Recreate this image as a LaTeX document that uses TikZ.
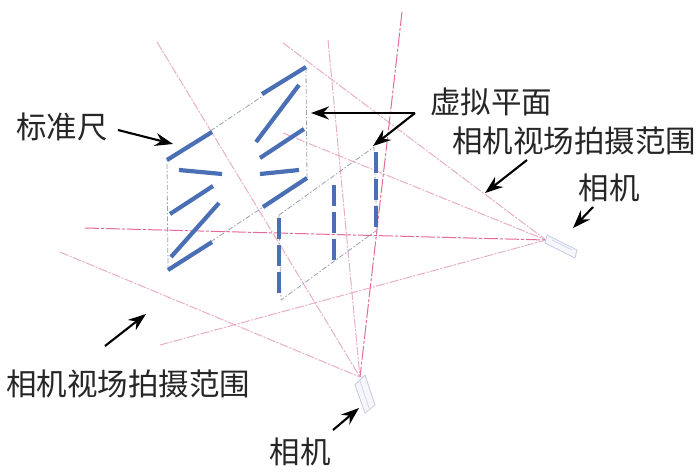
\documentclass[tikz,border=0pt]{standalone}
\usepackage{fontspec}
\newfontfamily\cjk{Noto Sans CJK SC}[Scale=1]
\usetikzlibrary{arrows.meta}
\definecolor{rayPink}{HTML}{E9AFC8}
\definecolor{rayCore}{HTML}{E86A9C}
\definecolor{barBlue}{HTML}{4A6FB5}
\definecolor{planeGrey}{HTML}{98A2B4}
\definecolor{camEdge}{HTML}{C6CBE0}
\definecolor{camFill}{HTML}{F6F7FC}
\begin{document}
\begin{tikzpicture}[x=1pt,y=-1pt,>={Stealth[length=18pt,width=13pt,inset=6pt]},line cap=butt,line join=round]
\tikzset{ray/.style={draw=rayPink,line width=1pt,dash pattern=on 9pt off 1.5pt on 2pt off 1.5pt},coreray/.style={draw=rayCore,line width=1pt,dash pattern=on 14pt off 2pt on 3pt off 2pt},planeline/.style={draw=planeGrey,line width=0.8pt,dash pattern=on 5pt off 2pt on 1.5pt off 2pt},bar/.style={draw=barBlue,line width=4.2pt},callout/.style={draw=black,line width=2.1pt,->},label/.style={font=\cjk\fontsize{30.5}{30.5}\selectfont,text=black!85,inner sep=0pt},cam/.style={draw=camEdge,fill=camFill,line width=0.8pt},camline/.style={draw=camEdge,line width=0.6pt}}
\path[use as bounding box,fill=white] (0,0) rectangle (700,471);
% view points
\coordinate (camR) at (546,240);
\coordinate (camB) at (360,377);
% rays of the right camera
\coordinate (rayRa) at (283,43);
\coordinate (rayRb) at (283,133);
\coordinate (rayRc) at (85,228);
\coordinate (rayRd) at (160,345);
\draw[ray] (rayRa) -- (camR);
\draw[ray] (rayRb) -- (camR);
\draw[coreray] (rayRc) -- (camR);
\draw[ray] (rayRd) -- (camR);
% rays of the bottom camera
\coordinate (rayBa) at (157,42);
\coordinate (rayBb) at (328,40);
\coordinate (rayBc) at (402,12);
\coordinate (rayBd) at (60,252);
\draw[ray] (rayBa) -- (camB);
\draw[ray] (rayBb) -- (camB);
\draw[coreray] (rayBc) -- (camB);
\draw[ray] (rayBd) -- (camB);
% planes
\coordinate (planeA) at (167,160);
\coordinate (planeB) at (306,67);
\coordinate (planeC) at (307,178);
\coordinate (planeD) at (168,270);
\coordinate (planeE) at (279,215);
\coordinate (planeF) at (374,147);
\coordinate (planeG) at (377,230);
\coordinate (planeH) at (281,300);
\draw[planeline] (planeA) -- (planeB) -- (planeC) -- (planeD) -- cycle;
\draw[planeline] (planeE) -- (planeF) -- (planeG) -- (planeH) -- cycle;
% scale bars
\draw[bar] (167,160) -- (212,132);
\draw[bar] (262,94) -- (306,67);
\draw[bar] (256,142) -- (299,85);
\draw[bar] (260,158) -- (304,129);
\draw[bar] (260,174) -- (299,170);
\draw[bar] (263,207) -- (307,178);
\draw[bar] (179,170) -- (222,174);
\draw[bar] (170,214) -- (213,186);
\draw[bar] (171,257) -- (219,203);
\draw[bar] (168,270) -- (212,242);
\draw[bar,dash pattern=on 21pt off 6pt] (279,218) -- (279,293);
\draw[bar,dash pattern=on 21pt off 6pt] (334,185) -- (334,260);
\draw[bar,dash pattern=on 21pt off 6pt] (376,152) -- (376,228);
% cameras
\draw[cam] (547,235) -- (577,250) -- (575,258) -- (545,243) -- cycle;
\draw[camline] (552,240) -- (572,250);
\draw[cam] (355,385) -- (365,375) -- (375,405) -- (365,413) -- cycle;
\draw[camline] (360,381) -- (369,408);
% labels
\node[label] (rulerText) at (62,127) {标准尺};
\node[label] (planeText) at (491,102) {虚拟平面};
\node[label] (viewTextR) at (574,141) {相机视场拍摄范围};
\node[label] (camTextR) at (609,188) {相机};
\node[label] (viewTextB) at (128,384) {相机视场拍摄范围};
\node[label] (camTextB) at (300,452) {相机};
% callouts
\coordinate (rulerTail) at (118,130);
\coordinate (rulerTip) at (173,144);
\coordinate (planeFork) at (415,113);
\coordinate (planeTipA) at (311,113);
\coordinate (planeTipB) at (373,146);
\coordinate (viewTipR) at (485,193);
\coordinate (viewTailR) at (527,160);
\coordinate (camTipR) at (573,228);
\coordinate (camTailR) at (593,207);
\coordinate (viewTipB) at (146,314);
\coordinate (viewTailB) at (105,346);
\coordinate (camTipB) at (359,408);
\coordinate (camTailB) at (333,430);
\draw[callout] (rulerTail) -- (rulerTip);
\draw[callout] (planeFork) -- (planeTipA);
\draw[callout] (planeFork) -- (planeTipB);
\draw[callout] (viewTailR) -- (viewTipR);
\draw[callout] (camTailR) -- (camTipR);
\draw[callout] (viewTailB) -- (viewTipB);
\draw[callout] (camTailB) -- (camTipB);
\end{tikzpicture}
\end{document}
